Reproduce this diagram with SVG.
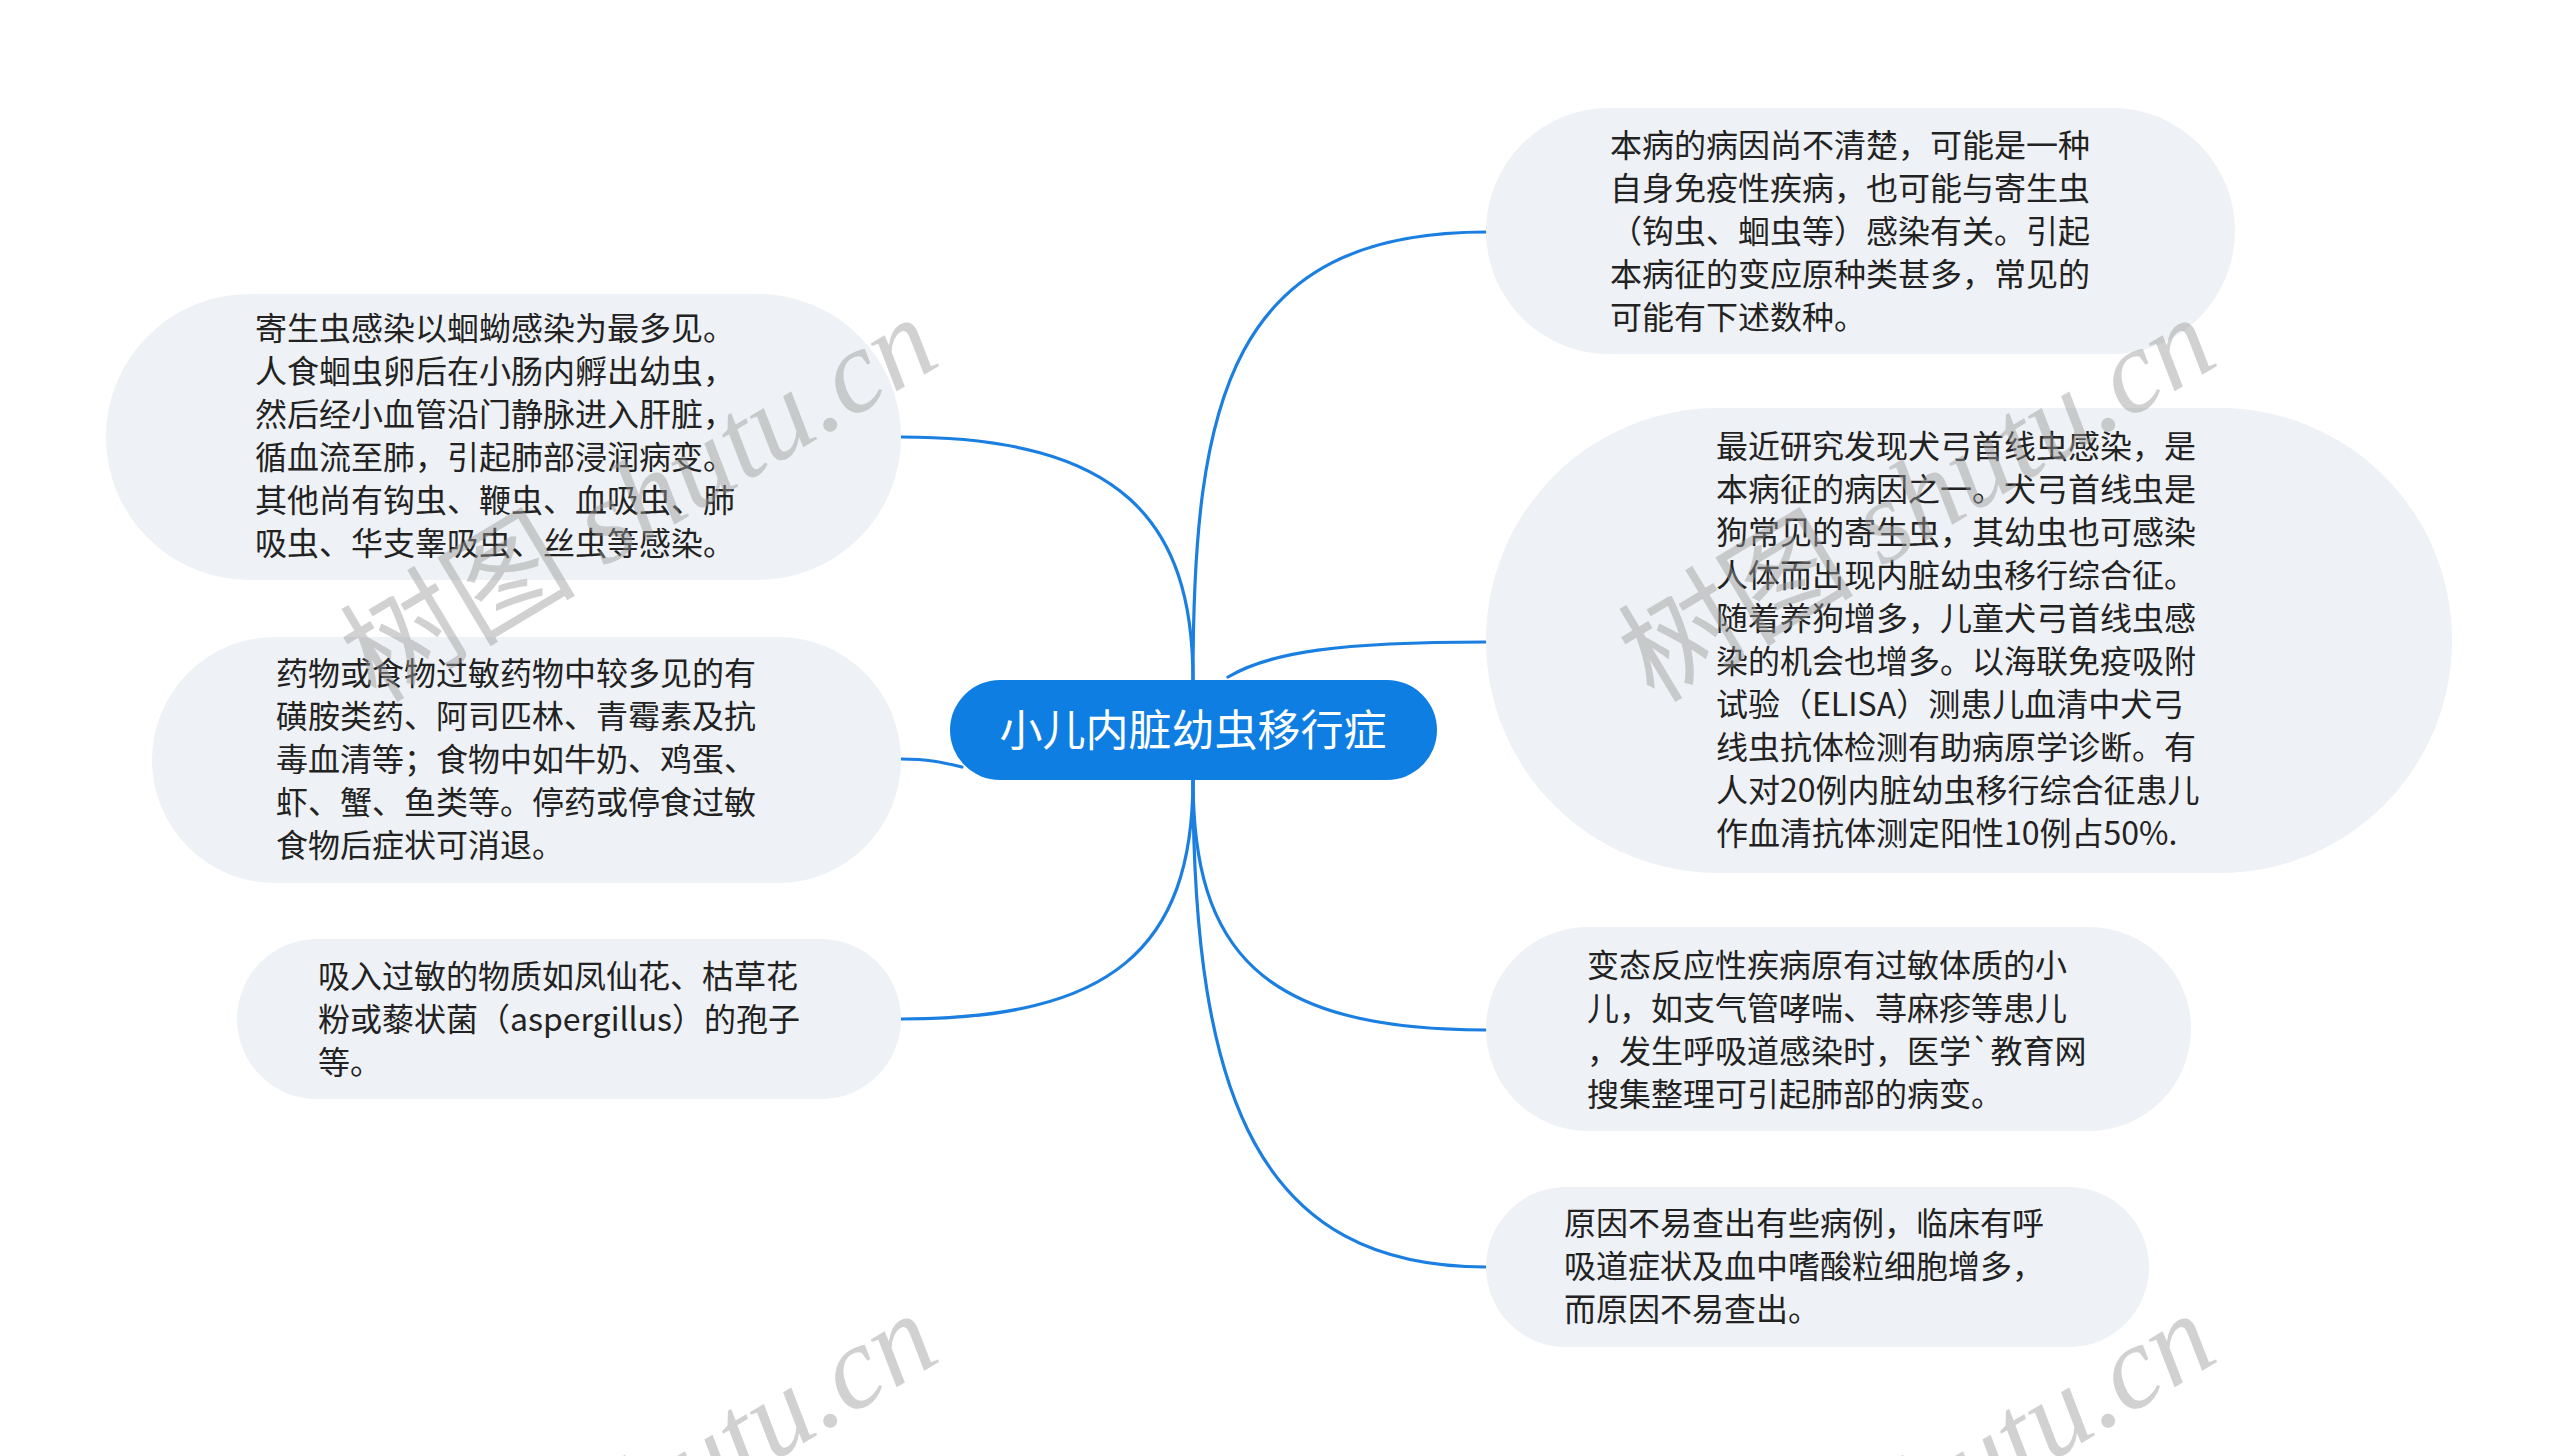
<svg xmlns="http://www.w3.org/2000/svg" width="2560" height="1456" viewBox="0 0 2560 1456">
<style>
.node{fill:#eef1f5;}
.t{font-family:"Noto Sans CJK SC","Noto Sans",sans-serif;font-size:32px;fill:#222;}
.root{fill:#0f7ee3;}
.rt{font-family:"Noto Sans CJK SC","Noto Sans",sans-serif;font-size:43px;fill:#fff;}
.c{fill:none;stroke:#1a7fe0;stroke-width:3.2;stroke-linecap:round;}
.wm{font-family:"Liberation Serif","Noto Sans CJK SC",serif;font-style:italic;font-size:118px;fill:#9a9a9a;opacity:0.45;}
.wc{font-family:"Noto Sans CJK SC",sans-serif;font-style:normal;}
</style>
<rect x="0" y="0" width="2560" height="1456" fill="#ffffff"/>
<g id="connectors">
<path class="c" d="M1193,680 C1193,520 1120,437 901,437"/>
<path class="c" d="M901,759 C930,759 945,763 962,767"/>
<path class="c" d="M1193,779 C1193,950 1110,1019 901,1019"/>
<path class="c" d="M1193,680 C1193,400 1230,232 1486,232"/>
<path class="c" d="M1228,677 C1270,652 1340,642 1486,642"/>
<path class="c" d="M1193,779 C1193,950 1260,1030 1486,1030"/>
<path class="c" d="M1193,779 C1193,1100 1260,1267 1486,1267"/>
</g>
<g id="root">
<rect class="root" x="950" y="680" width="487" height="100" rx="50" ry="50"/>
<text class="rt" x="1193" y="746" text-anchor="middle">小儿内脏幼虫移行症</text>
</g>
<g id="left1">
<rect class="node" x="106" y="294" width="795" height="286" rx="143" ry="143"/>
<text class="t"><tspan x="255" y="340">寄生虫感染以蛔蚴感染为最多见。</tspan><tspan x="255" y="383">人食蛔虫卵后在小肠内孵出幼虫，</tspan><tspan x="255" y="426">然后经小血管沿门静脉进入肝脏，</tspan><tspan x="255" y="469">循血流至肺，引起肺部浸润病变。</tspan><tspan x="255" y="512">其他尚有钩虫、鞭虫、血吸虫、肺</tspan><tspan x="255" y="555">吸虫、华支睾吸虫、丝虫等感染。</tspan></text>
</g>
<g id="left2">
<rect class="node" x="152" y="637" width="749" height="246" rx="123" ry="123"/>
<text class="t"><tspan x="276" y="685">药物或食物过敏药物中较多见的有</tspan><tspan x="276" y="728">磺胺类药、阿司匹林、青霉素及抗</tspan><tspan x="276" y="771">毒血清等；食物中如牛奶、鸡蛋、</tspan><tspan x="276" y="814">虾、蟹、鱼类等。停药或停食过敏</tspan><tspan x="276" y="857">食物后症状可消退。</tspan></text>
</g>
<g id="left3">
<rect class="node" x="237" y="939" width="664" height="160" rx="80" ry="80"/>
<text class="t"><tspan x="318" y="988">吸入过敏的物质如凤仙花、枯草花</tspan><tspan x="318" y="1031">粉或藜状菌（aspergillus）的孢子</tspan><tspan x="318" y="1074">等。</tspan></text>
</g>
<g id="right1">
<rect class="node" x="1486" y="108" width="749" height="246" rx="123" ry="123"/>
<text class="t"><tspan x="1610" y="157">本病的病因尚不清楚，可能是一种</tspan><tspan x="1610" y="200">自身免疫性疾病，也可能与寄生虫</tspan><tspan x="1610" y="243">（钩虫、蛔虫等）感染有关。引起</tspan><tspan x="1610" y="286">本病征的变应原种类甚多，常见的</tspan><tspan x="1610" y="329">可能有下述数种。</tspan></text>
</g>
<g id="right2">
<rect class="node" x="1486" y="408" width="966" height="465" rx="232" ry="232"/>
<text class="t"><tspan x="1716" y="458">最近研究发现犬弓首线虫感染，是</tspan><tspan x="1716" y="501">本病征的病因之一。犬弓首线虫是</tspan><tspan x="1716" y="544">狗常见的寄生虫，其幼虫也可感染</tspan><tspan x="1716" y="587">人体而出现内脏幼虫移行综合征。</tspan><tspan x="1716" y="630">随着养狗增多，儿童犬弓首线虫感</tspan><tspan x="1716" y="673">染的机会也增多。以海联免疫吸附</tspan><tspan x="1716" y="716">试验（ELISA）测患儿血清中犬弓</tspan><tspan x="1716" y="759">线虫抗体检测有助病原学诊断。有</tspan><tspan x="1716" y="802">人对20例内脏幼虫移行综合征患儿</tspan><tspan x="1716" y="845">作血清抗体测定阳性10例占50%.</tspan></text>
</g>
<g id="right3">
<rect class="node" x="1486" y="927" width="705" height="204" rx="102" ry="102"/>
<text class="t"><tspan x="1587" y="977">变态反应性疾病原有过敏体质的小</tspan><tspan x="1587" y="1020">儿，如支气管哮喘、荨麻疹等患儿</tspan><tspan x="1587" y="1063">，发生呼吸道感染时，医学`教育网</tspan><tspan x="1587" y="1106">搜集整理可引起肺部的病变。</tspan></text>
</g>
<g id="right4">
<rect class="node" x="1486" y="1187" width="663" height="160" rx="80" ry="80"/>
<text class="t"><tspan x="1564" y="1235">原因不易查出有些病例，临床有呼</tspan><tspan x="1564" y="1278">吸道症状及血中嗜酸粒细胞增多，</tspan><tspan x="1564" y="1321">而原因不易查出。</tspan></text>
</g>
<g id="watermarks">
<text class="wm" transform="translate(376,704) rotate(-31)"><tspan class="wc">树图</tspan> shutu.cn</text>
<text class="wm" transform="translate(1654,704) rotate(-31)"><tspan class="wc">树图</tspan> shutu.cn</text>
<text class="wm" transform="translate(376,1700) rotate(-31)"><tspan class="wc">树图</tspan> shutu.cn</text>
<text class="wm" transform="translate(1654,1700) rotate(-31)"><tspan class="wc">树图</tspan> shutu.cn</text>
</g>
</svg>
